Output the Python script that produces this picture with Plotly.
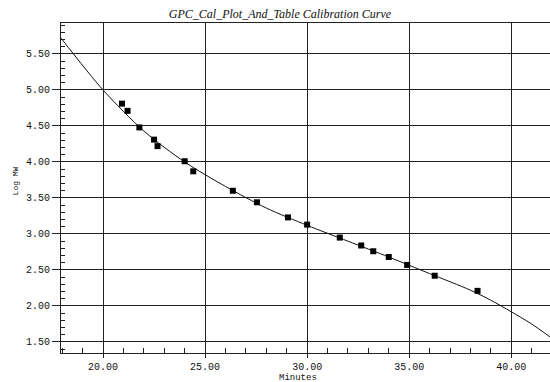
import plotly.graph_objects as go

# Calibration standards (retention minutes, Log MW)
std_minutes = [20.93, 21.20, 21.78, 22.50, 22.67, 24.00, 24.42, 26.36, 27.54,
               29.06, 30.00, 31.60, 32.65, 33.24, 34.00, 34.90, 36.25, 38.35]
std_logmw = [4.81, 4.71, 4.48, 4.31, 4.22, 4.01, 3.87, 3.60, 3.44,
             3.23, 3.13, 2.95, 2.84, 2.76, 2.68, 2.57, 2.42, 2.21]

# Calibration curve
curve_minutes = [17.94, 20.0, 22.0, 24.0, 26.0, 28.0, 30.0, 32.0, 34.0, 36.0, 38.0, 39.0, 40.0, 41.0, 41.9]
curve_logmw = [5.72, 5.00, 4.43, 4.00, 3.66, 3.36, 3.12, 2.90, 2.68, 2.45, 2.22, 2.08, 1.92, 1.75, 1.57]

x_ticks = [20, 25, 30, 35, 40]
y_ticks = [1.5, 2.0, 2.5, 3.0, 3.5, 4.0, 4.5, 5.0, 5.5]

mono = "Liberation Mono"

fig = go.Figure()
fig.add_trace(go.Scatter(x=curve_minutes, y=curve_logmw, mode="lines",
                         line=dict(color="#111", width=1, shape="spline", smoothing=0.8),
                         showlegend=False, hoverinfo="skip"))
fig.add_trace(go.Scatter(x=std_minutes, y=std_logmw, mode="markers",
                         marker=dict(symbol="square", size=6, color="#000"),
                         showlegend=False))

fig.update_layout(
    width=550, height=382,
    margin=dict(l=61, r=0, t=23, b=29),
    paper_bgcolor="white", plot_bgcolor="white",
    title=dict(text="<i>GPC_Cal_Plot_And_Table Calibration Curve</i>",
               x=0.509, xanchor="center", y=0.952, yanchor="bottom",
               font=dict(family="Liberation Serif", size=12, color="#111")),
    xaxis=dict(range=[17.94, 41.9], tickvals=x_ticks, tickformat=".2f",
               automargin=False,
               showgrid=True, gridcolor="#222", gridwidth=1,
               showline=True, linecolor="#222", linewidth=1, mirror=True,
               ticks="outside", ticklen=4, tickcolor="#222",
               minor=dict(dtick=1, ticks="inside", ticklen=5, tickcolor="#222", showgrid=False),
               tickfont=dict(family=mono, size=10, color="#111"),
               zeroline=False),
    yaxis=dict(range=[1.347, 5.93], tickvals=y_ticks, tickformat=".2f",
               automargin=False,
               showgrid=True, gridcolor="#222", gridwidth=1,
               showline=True, linecolor="#222", linewidth=1,
               ticks="outside", ticklen=8, tickcolor="#222",
               minor=dict(dtick=0.1, ticks="inside", ticklen=4, tickcolor="#222", showgrid=False),
               tickfont=dict(family=mono, size=10, color="#111"),
               zeroline=False),
    annotations=[
        dict(text="Minutes", xref="paper", yref="paper", x=0.485, y=0,
             xanchor="center", yanchor="top", yshift=-18, showarrow=False,
             font=dict(family=mono, size=9, color="#111")),
        dict(text="Log MW", xref="paper", yref="paper", x=0, y=0.52,
             xanchor="center", yanchor="middle", xshift=-46, textangle=-90,
             showarrow=False, font=dict(family=mono, size=8, color="#111")),
    ],
)

fig.write_html("out.html", config={"displayModeBar": False},
               post_script="document.body.style.margin='0';document.body.style.overflow='hidden';")
